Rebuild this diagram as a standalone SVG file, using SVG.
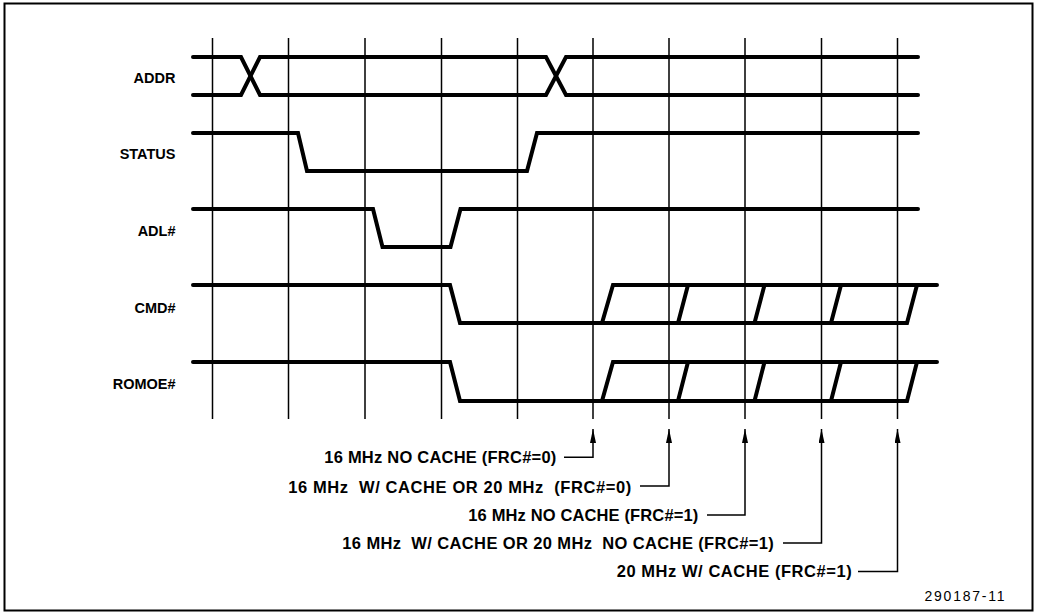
<svg xmlns="http://www.w3.org/2000/svg" width="1037" height="615" viewBox="0 0 1037 615">
<style>
.sig{fill:none;stroke:#000;stroke-width:4;stroke-linecap:round;stroke-linejoin:miter}
.grid{fill:none;stroke:#000;stroke-width:1.5}
.conn{fill:none;stroke:#000;stroke-width:1.5}
.lbl{font-family:"Liberation Sans",Arial,sans-serif;font-weight:bold;font-size:14.5px;fill:#000;text-anchor:end}
.note{font-family:"Liberation Sans",Arial,sans-serif;font-weight:bold;font-size:16.5px;fill:#000}
.fig{font-family:"Liberation Sans",Arial,sans-serif;font-size:14px;fill:#000}
</style>
<defs>
<marker id="arr" viewBox="0 0 14 6" refX="14" refY="3" markerWidth="14" markerHeight="6" markerUnits="userSpaceOnUse" orient="auto">
<path d="M0,0 L14,3 L0,6 z" fill="#000"/>
</marker>
</defs>
<rect x="0" y="0" width="1037" height="615" fill="#fff"/>
<rect id="frame" x="4.5" y="3.5" width="1028" height="607" fill="none" stroke="#000" stroke-width="2"/>
<g id="grid" class="grid">
<path d="M212.5,38V419M288.5,38V419M365,38V419M441.5,38V419M517.5,38V419M593,38V419M669,38V419M745,38V419M821.5,38V419M897.5,38V419"/>
</g>
<g id="addr">
<text class="lbl" x="175.5" y="83">ADDR</text>
<path class="sig" d="M193,57H241L260,95H546L566,57H918"/>
<path class="sig" d="M193,95H241L260,57H546L566,95H918"/>
</g>
<g id="status">
<text class="lbl" x="175.5" y="158.5">STATUS</text>
<path class="sig" d="M193,133H298L307,171H527L537,133H918"/>
</g>
<g id="adl">
<text class="lbl" x="175.5" y="236">ADL#</text>
<path class="sig" d="M193,209H373L382.5,247H450.5L460.5,209H918"/>
</g>
<g id="cmd">
<text class="lbl" x="175.5" y="312.5">CMD#</text>
<path class="sig" d="M193,285H450L460,323H907L917,285"/>
<path class="sig" d="M602,323L613,285H937M678,323L688,285M754.5,323L764.5,285M831,323L841,285"/>
</g>
<g id="romoe">
<text class="lbl" x="175.5" y="388.5">ROMOE#</text>
<path class="sig" d="M193,362H450L460,401H907L917,362"/>
<path class="sig" d="M602,401L613,362H937M678,401L688,362M754.5,401L764.5,362M831,401L841,362"/>
</g>
<g id="notes">
<text class="note" x="324.3" y="463.3" textLength="232" lengthAdjust="spacing">16 MHz NO CACHE (FRC#=0)</text>
<text class="note" x="288.3" y="492.5" textLength="343" lengthAdjust="spacing" xml:space="preserve">16 MHz  W/ CACHE OR 20 MHz  (FRC#=0)</text>
<text class="note" x="468.3" y="521" textLength="230" lengthAdjust="spacing">16 MHz NO CACHE (FRC#=1)</text>
<text class="note" x="342.3" y="549" textLength="431.5" lengthAdjust="spacing" xml:space="preserve">16 MHz  W/ CACHE OR 20 MHz  NO CACHE (FRC#=1)</text>
<text class="note" x="616.7" y="577" textLength="235" lengthAdjust="spacing">20 MHz W/ CACHE (FRC#=1)</text>
</g>
<g id="connectors" class="conn">
<path marker-end="url(#arr)" d="M564,457.3H593V429"/>
<path marker-end="url(#arr)" d="M640,486H669V429"/>
<path marker-end="url(#arr)" d="M707,515H745V429"/>
<path marker-end="url(#arr)" d="M783,543H821.5V429"/>
<path marker-end="url(#arr)" d="M858,571.5H897.5V429"/>
</g>
<text id="fignum" class="fig" x="924.5" y="601" textLength="80" lengthAdjust="spacing">290187-11</text>
</svg>
